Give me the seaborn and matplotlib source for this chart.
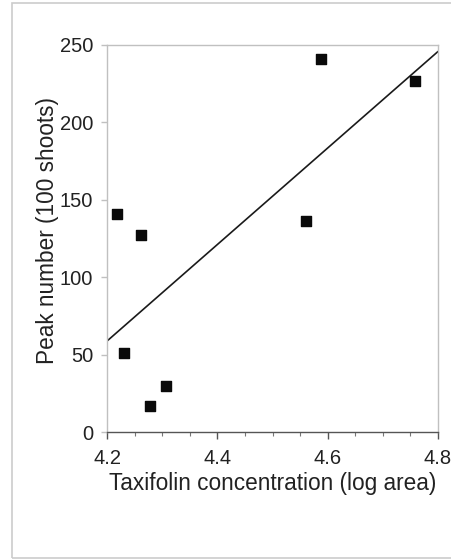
import numpy as np
import pandas as pd
import matplotlib.pyplot as plt
import seaborn as sns
from matplotlib.patches import Rectangle
from matplotlib.ticker import MultipleLocator

# values
taxifolin = [4.588, 4.758, 4.219, 4.262, 4.561, 4.231, 4.278, 4.307]
peaks = [241, 227, 141, 127, 136, 51, 17, 30]

df = pd.DataFrame({'taxifolin': taxifolin, 'peaks': peaks})

sns.set_style('white')
plt.rcParams['font.family'] = ['Liberation Sans', 'DejaVu Sans']

fig = plt.figure(figsize=(4.51, 5.6), dpi=100)
ax = fig.add_axes([107 / 451, 1 - 432 / 560, 331 / 451, 387 / 560])

# outer frame of the scanned panel (runs off the right edge)
fig.patches.append(Rectangle((12 / 451, 2 / 560), 1.2, 555 / 560,
                             transform=fig.transFigure, fill=False,
                             edgecolor='#cccccc', linewidth=1.2))

ax.set_xlim(4.2, 4.8)
ax.set_ylim(0, 250)

sns.regplot(data=df, x='taxifolin', y='peaks', ax=ax, ci=None, truncate=False,
            marker='s',
            scatter_kws={'s': 55, 'color': '#0a0a0a', 'edgecolors': '#0a0a0a',
                         'alpha': 1, 'zorder': 3},
            line_kws={'color': '#1a1a1a', 'linewidth': 1.2})

ax.set_xlim(4.2, 4.8)
ax.set_ylim(0, 250)
ax.set_xticks([4.2, 4.4, 4.6, 4.8])
ax.set_xticklabels(['4.2', '4.4', '4.6', '4.8'])
ax.xaxis.set_minor_locator(MultipleLocator(0.05))
ax.set_yticks([0, 50, 100, 150, 200, 250])

for side in ['top', 'right', 'left']:
    ax.spines[side].set_color('#c0c0c0')
    ax.spines[side].set_linewidth(1.0)
ax.spines['bottom'].set_color('#555555')
ax.spines['bottom'].set_linewidth(1.0)

ax.tick_params(axis='x', which='major', direction='out', length=5, width=1,
               color='#555555', labelsize=14.5, labelcolor='#222222', pad=7,
               bottom=True)
ax.tick_params(axis='x', which='minor', direction='out', length=3, width=0.8,
               color='#777777', bottom=True)
ax.tick_params(axis='y', which='major', direction='out', length=4, width=1,
               color='#c0c0c0', labelsize=14.5, labelcolor='#222222', pad=6,
               left=True)

ax.set_xlabel('Taxifolin concentration (log area)', fontsize=16.3,
              color='#222222', labelpad=3)
ax.set_ylabel('Peak number (100 shoots)', fontsize=16.3,
              color='#222222', labelpad=1)
ax.yaxis.set_label_coords(-0.144, 0.52)

fig.savefig('out.png', dpi=100)
